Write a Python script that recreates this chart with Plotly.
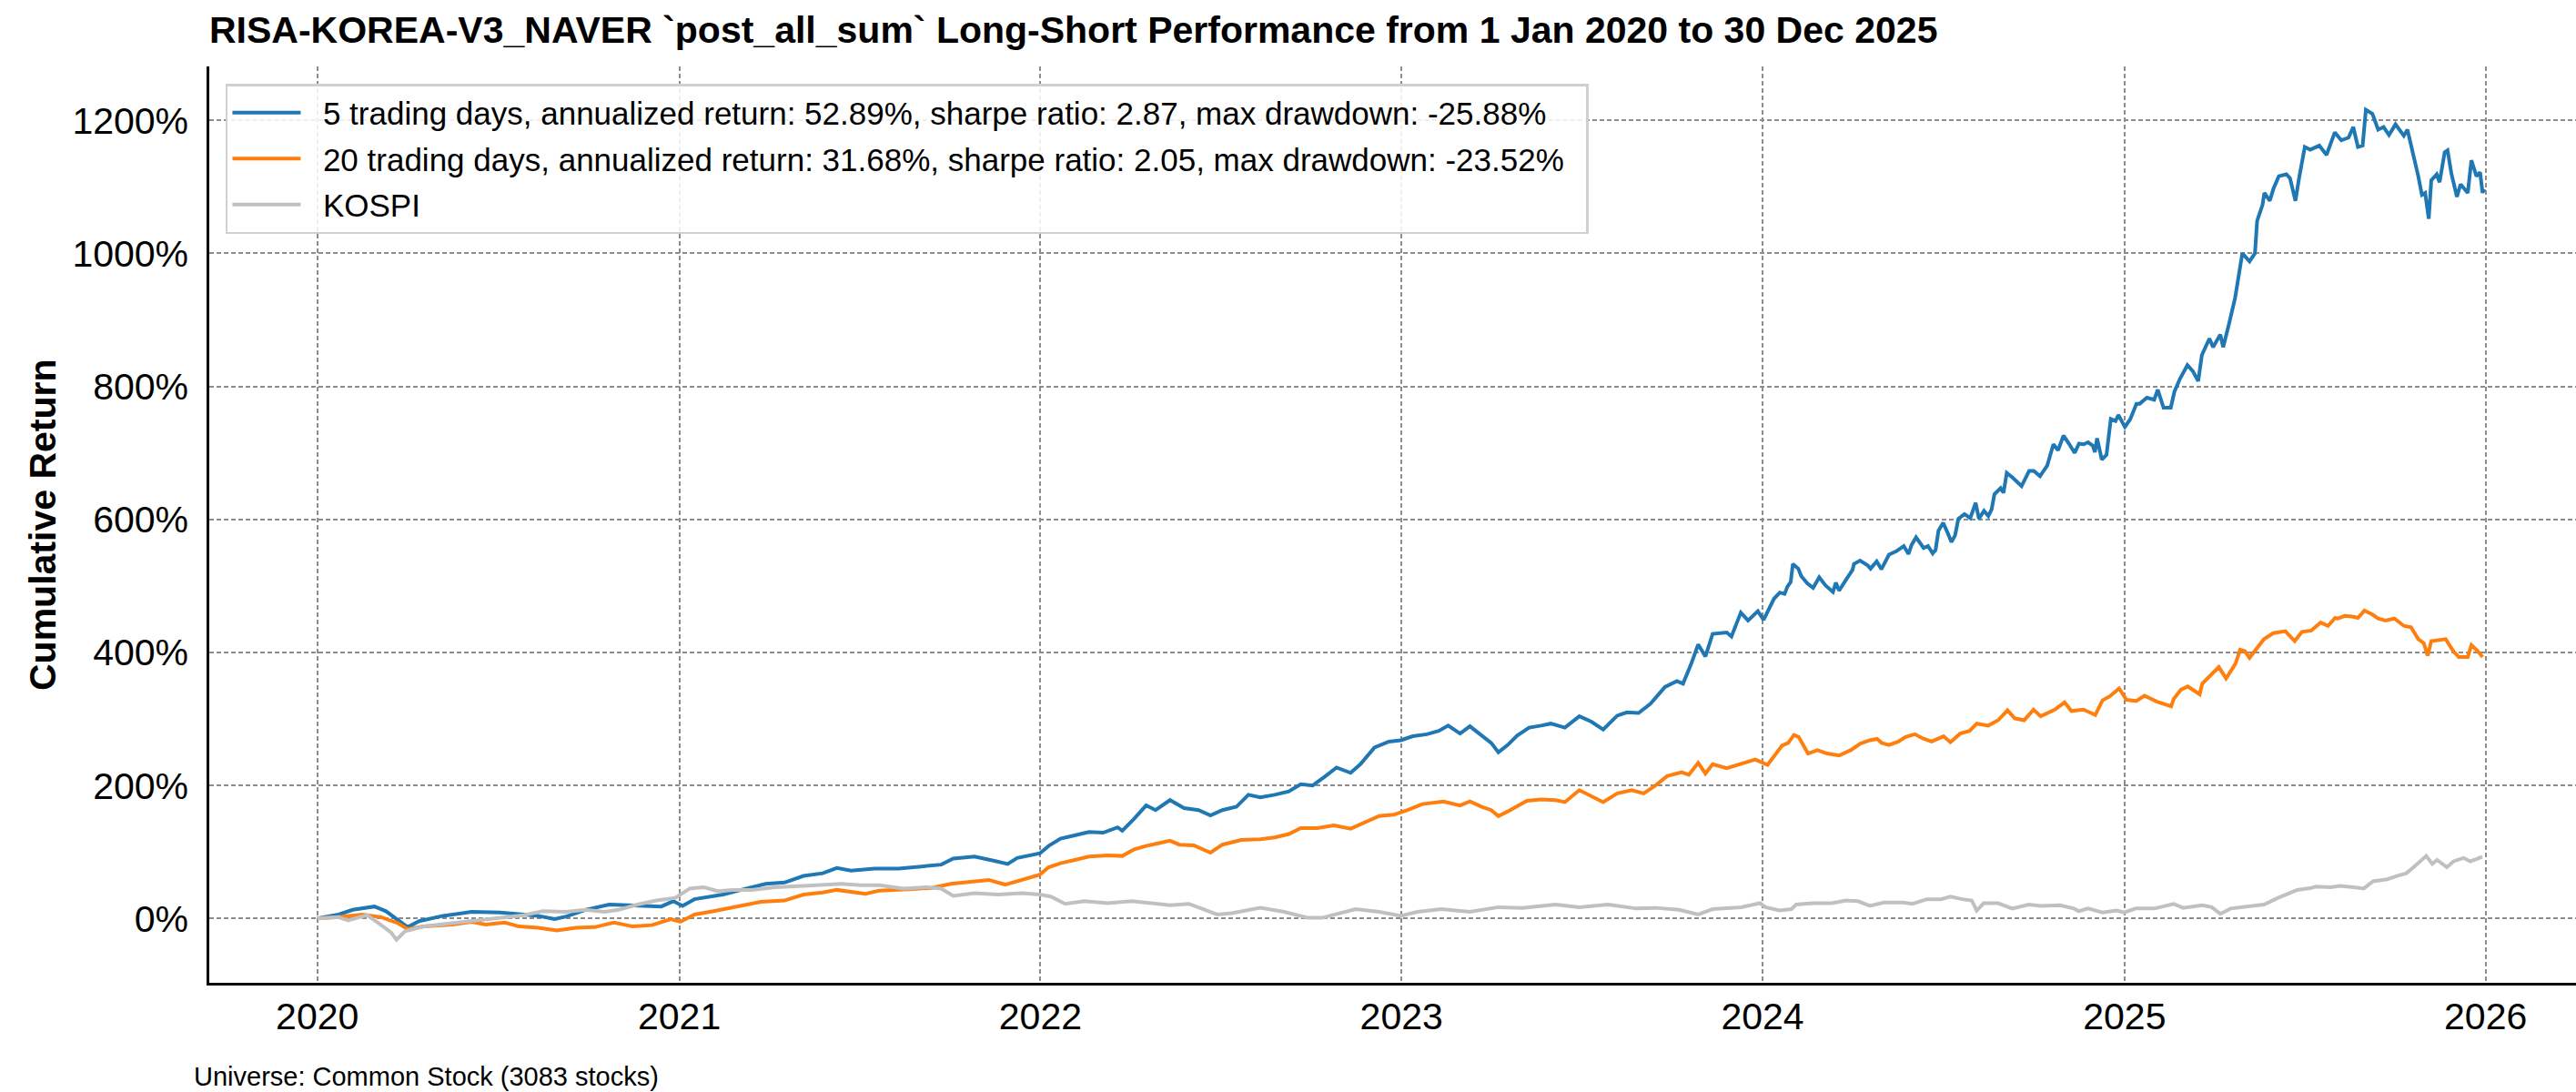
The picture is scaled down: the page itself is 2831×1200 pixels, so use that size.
import pandas as pd
import plotly.graph_objects as go

# ---- data (decimal year, cumulative return in %) ----
t5 = [2020.000, 2020.059, 2020.098, 2020.158, 2020.190, 2020.223, 2020.250, 2020.282, 2020.348, 2020.427,
      2020.506, 2020.571, 2020.611, 2020.657, 2020.689, 2020.742, 2020.808, 2020.860, 2020.913, 2020.952,
      2020.985, 2021.011, 2021.044, 2021.123, 2021.188, 2021.241, 2021.293, 2021.346, 2021.399, 2021.438,
      2021.477, 2021.543, 2021.609, 2021.674, 2021.727, 2021.760, 2021.819, 2021.871, 2021.911, 2021.937,
      2021.976, 2022.000, 2022.024, 2022.057, 2022.096, 2022.136, 2022.175, 2022.215, 2022.228, 2022.261,
      2022.294, 2022.320, 2022.360, 2022.399, 2022.439, 2022.472, 2022.505, 2022.544, 2022.577, 2022.610,
      2022.650, 2022.689, 2022.722, 2022.755, 2022.788, 2022.821, 2022.860, 2022.887, 2022.926, 2022.966,
      2022.999, 2023.032, 2023.071, 2023.104, 2023.130, 2023.163, 2023.190, 2023.223, 2023.249, 2023.269,
      2023.295, 2023.321, 2023.354, 2023.387, 2023.414, 2023.453, 2023.493, 2023.526, 2023.559, 2023.598,
      2023.625, 2023.657, 2023.690, 2023.730, 2023.763, 2023.780, 2023.802, 2023.822, 2023.842, 2023.862,
      2023.901, 2023.914, 2023.940, 2023.960, 2023.987, 2024.003, 2024.019, 2024.032, 2024.048, 2024.061,
      2024.069, 2024.078, 2024.084, 2024.099, 2024.107, 2024.124, 2024.140, 2024.157, 2024.174, 2024.195,
      2024.203, 2024.212, 2024.232, 2024.249, 2024.253, 2024.270, 2024.291, 2024.299, 2024.316, 2024.329,
      2024.350, 2024.370, 2024.391, 2024.404, 2024.412, 2024.425, 2024.446, 2024.458, 2024.471, 2024.479,
      2024.487, 2024.500, 2024.513, 2024.523, 2024.533, 2024.542, 2024.559, 2024.575, 2024.590, 2024.599,
      2024.613, 2024.625, 2024.634, 2024.642, 2024.659, 2024.667, 2024.676, 2024.692, 2024.717, 2024.738,
      2024.751, 2024.768, 2024.788, 2024.797, 2024.805, 2024.818, 2024.833, 2024.847, 2024.864, 2024.876,
      2024.889, 2024.901, 2024.914, 2024.920, 2024.926, 2024.939, 2024.952, 2024.964, 2024.977, 2024.985,
      2025.003, 2025.018, 2025.035, 2025.044, 2025.064, 2025.084, 2025.094, 2025.110, 2025.130, 2025.140,
      2025.155, 2025.176, 2025.191, 2025.206, 2025.216, 2025.237, 2025.247, 2025.267, 2025.275, 2025.292,
      2025.308, 2025.328, 2025.348, 2025.363, 2025.369, 2025.384, 2025.389, 2025.404, 2025.414, 2025.429,
      2025.450, 2025.460, 2025.475, 2025.485, 2025.501, 2025.516, 2025.541, 2025.561, 2025.584, 2025.602,
      2025.622, 2025.635, 2025.648, 2025.661, 2025.670, 2025.688, 2025.704, 2025.719, 2025.734, 2025.752,
      2025.775, 2025.785, 2025.800, 2025.815, 2025.825, 2025.834, 2025.844, 2025.851, 2025.866, 2025.874,
      2025.888, 2025.896, 2025.907, 2025.922, 2025.932, 2025.952, 2025.962, 2025.976, 2025.986, 2025.993,
      2025.997]
v5 = [0, 6, 13, 18, 11, -3, -13, -4, 4, 10,
      9, 6, 4, -1, 3, 13, 21, 20, 19, 18,
      26, 19, 29, 36, 45, 52, 54, 64, 68, 76,
      72, 75, 75, 79, 81, 90, 93, 87, 82, 91,
      96, 98, 109, 120, 125, 130, 129, 137, 132, 150,
      170, 163, 178, 166, 163, 155, 163, 168, 186, 182,
      186, 191, 202, 200, 213, 227, 219, 232, 257, 266,
      268, 274, 277, 282, 290, 278, 289, 275, 264, 250,
      261, 275, 287, 290, 293, 287, 304, 296, 284, 305,
      310, 309, 323, 348, 357, 353, 382, 412, 394, 428,
      430, 424, 460, 448, 462, 449, 467, 481, 490, 488,
      499, 506, 533, 526, 515, 504, 497, 513, 501, 491,
      505, 493, 510, 524, 533, 538, 531, 526, 537, 525,
      547, 552, 560, 548, 561, 573, 557, 560, 549, 554,
      583, 595, 579, 566, 576, 601, 608, 602, 625, 601,
      613, 605, 615, 638, 647, 640, 670, 663, 650, 673,
      673, 665, 681, 699, 713, 704, 726, 715, 700, 714,
      713, 716, 711, 701, 722, 690, 697, 751, 748, 757,
      739, 751, 774, 774, 783, 780, 795, 768, 768, 792,
      811, 832, 823, 808, 847, 872, 859, 878, 859, 896,
      933, 1000, 988, 1000, 1049, 1073, 1091, 1079, 1097, 1116,
      1119, 1113, 1079, 1113, 1160, 1156, 1162, 1148, 1182, 1170,
      1174, 1190, 1160, 1162, 1216, 1210, 1186, 1190, 1178, 1194,
      1177, 1186, 1152, 1116, 1088, 1091, 1052, 1110, 1119, 1107,
      1152, 1155, 1119, 1085, 1104, 1091, 1140, 1116, 1122, 1091,
      1097]

t20 = [2020.000, 2020.059, 2020.125, 2020.177, 2020.223, 2020.250, 2020.295, 2020.374, 2020.427, 2020.466,
       2020.519, 2020.558, 2020.611, 2020.663, 2020.716, 2020.768, 2020.821, 2020.873, 2020.926, 2020.978,
       2021.005, 2021.044, 2021.097, 2021.162, 2021.228, 2021.293, 2021.346, 2021.399, 2021.438, 2021.517,
       2021.556, 2021.635, 2021.701, 2021.753, 2021.819, 2021.858, 2021.904, 2021.937, 2021.976, 2022.000,
       2022.024, 2022.057, 2022.096, 2022.136, 2022.188, 2022.228, 2022.261, 2022.294, 2022.360, 2022.386,
       2022.426, 2022.472, 2022.505, 2022.557, 2022.610, 2022.650, 2022.689, 2022.722, 2022.768, 2022.814,
       2022.860, 2022.900, 2022.939, 2022.979, 2023.018, 2023.058, 2023.117, 2023.163, 2023.190, 2023.223,
       2023.249, 2023.269, 2023.295, 2023.348, 2023.387, 2023.427, 2023.453, 2023.493, 2023.526, 2023.559,
       2023.598, 2023.638, 2023.671, 2023.704, 2023.736, 2023.776, 2023.796, 2023.822, 2023.842, 2023.862,
       2023.901, 2023.941, 2023.980, 2024.014, 2024.034, 2024.054, 2024.071, 2024.087, 2024.100, 2024.113,
       2024.126, 2024.152, 2024.179, 2024.212, 2024.244, 2024.271, 2024.297, 2024.317, 2024.330, 2024.350,
       2024.376, 2024.396, 2024.422, 2024.442, 2024.468, 2024.501, 2024.520, 2024.547, 2024.573, 2024.593,
       2024.625, 2024.652, 2024.678, 2024.698, 2024.724, 2024.750, 2024.770, 2024.809, 2024.836, 2024.855,
       2024.888, 2024.901, 2024.921, 2024.941, 2024.961, 2024.987, 2025.007, 2025.034, 2025.057, 2025.092,
       2025.131, 2025.138, 2025.158, 2025.177, 2025.197, 2025.210, 2025.217, 2025.243, 2025.263, 2025.283,
       2025.296, 2025.309, 2025.322, 2025.335, 2025.348, 2025.368, 2025.388, 2025.414, 2025.447, 2025.473,
       2025.493, 2025.519, 2025.545, 2025.565, 2025.585, 2025.592, 2025.612, 2025.632, 2025.648, 2025.666,
       2025.688, 2025.704, 2025.724, 2025.749, 2025.775, 2025.795, 2025.815, 2025.830, 2025.841, 2025.851,
       2025.871, 2025.891, 2025.912, 2025.927, 2025.952, 2025.962, 2025.978, 2025.993]
v20 = [0, 2, 6, 2, -7, -16, -12, -9, -5, -9,
       -6, -12, -14, -18, -14, -13, -6, -12, -10, -1,
       -5, 6, 11, 18, 25, 27, 36, 39, 43, 37,
       42, 44, 46, 52, 56, 58, 51, 56, 63, 66,
       77, 83, 88, 93, 95, 94, 104, 109, 117, 111,
       110, 99, 111, 118, 119, 122, 127, 136, 136, 140,
       135, 145, 154, 156, 163, 172, 176, 170, 176, 168,
       163, 154, 161, 177, 179, 178, 175, 193, 184, 175,
       188, 193, 188, 200, 214, 220, 216, 234, 218, 232,
       226, 233, 239, 231, 246, 260, 264, 276, 273, 260,
       248, 253, 248, 245, 253, 263, 268, 270, 264, 261,
       266, 273, 277, 271, 266, 274, 265, 278, 282, 293,
       290, 298, 313, 301, 298, 314, 304, 314, 325, 312,
       314, 311, 306, 328, 334, 346, 329, 327, 335, 326,
       319, 330, 344, 349, 342, 337, 353, 367, 378, 361,
       371, 383, 404, 402, 392, 406, 420, 429, 432, 417,
       431, 433, 445, 440, 452, 451, 455, 454, 452, 463,
       457, 451, 448, 451, 440, 438, 420, 414, 395, 417,
       419, 420, 402, 393, 393, 411, 403, 393]

tk = [2020.000, 2020.059, 2020.085, 2020.138, 2020.177, 2020.204, 2020.219, 2020.243, 2020.295, 2020.374,
      2020.440, 2020.506, 2020.571, 2020.624, 2020.689, 2020.742, 2020.794, 2020.834, 2020.886, 2020.939,
      2020.991, 2021.031, 2021.070, 2021.110, 2021.149, 2021.202, 2021.267, 2021.346, 2021.399, 2021.451,
      2021.504, 2021.556, 2021.622, 2021.687, 2021.727, 2021.760, 2021.819, 2021.884, 2021.950, 2022.000,
      2022.030, 2022.070, 2022.123, 2022.188, 2022.254, 2022.307, 2022.360, 2022.412, 2022.452, 2022.491,
      2022.531, 2022.610, 2022.676, 2022.742, 2022.781, 2022.821, 2022.874, 2022.939, 2022.999, 2023.045,
      2023.111, 2023.190, 2023.269, 2023.335, 2023.427, 2023.493, 2023.572, 2023.651, 2023.704, 2023.769,
      2023.822, 2023.862, 2023.941, 2023.993, 2024.008, 2024.047, 2024.080, 2024.093, 2024.139, 2024.192,
      2024.231, 2024.264, 2024.297, 2024.336, 2024.389, 2024.415, 2024.455, 2024.494, 2024.520, 2024.553,
      2024.579, 2024.593, 2024.612, 2024.652, 2024.691, 2024.737, 2024.770, 2024.823, 2024.862, 2024.875,
      2024.901, 2024.941, 2024.980, 2025.001, 2025.033, 2025.085, 2025.138, 2025.164, 2025.217, 2025.243,
      2025.267, 2025.296, 2025.348, 2025.388, 2025.427, 2025.480, 2025.519, 2025.532, 2025.572, 2025.598,
      2025.637, 2025.664, 2025.690, 2025.729, 2025.756, 2025.782, 2025.802, 2025.821, 2025.837, 2025.854,
      2025.867, 2025.894, 2025.913, 2025.940, 2025.959, 2025.979, 2025.992]
vk = [0, 2, -3, 5, -10, -21, -32, -19, -12, -7,
      -3, 0, 5, 11, 10, 13, 10, 13, 21, 27,
      31, 45, 47, 41, 43, 43, 47, 49, 51, 52,
      50, 50, 45, 47, 45, 34, 38, 36, 38, 36,
      33, 22, 26, 23, 26, 23, 20, 22, 14, 6,
      8, 16, 10, 1, 1, 6, 14, 10, 4, 10,
      14, 10, 17, 16, 21, 17, 21, 15, 16, 13,
      6, 14, 17, 23, 17, 12, 14, 21, 23, 23,
      27, 26, 19, 24, 24, 22, 29, 29, 33, 29,
      27, 12, 23, 23, 15, 21, 19, 20, 15, 11,
      15, 9, 12, 9, 15, 15, 22, 16, 20, 17,
      7, 15, 18, 21, 31, 43, 46, 48, 47, 49,
      47, 45, 56, 59, 64, 68, 77, 86, 94, 82,
      88, 77, 86, 91, 86, 90, 93]

names = [
    "5 trading days, annualized return: 52.89%, sharpe ratio: 2.87, max drawdown: -25.88%",
    "20 trading days, annualized return: 31.68%, sharpe ratio: 2.05, max drawdown: -23.52%",
    "KOSPI",
]
colors = ["#1f77b4", "#ff7f0e", "#c0c0c0"]
y_ticks = [0, 200, 400, 600, 800, 1000, 1200]
y_ticklabels = [f"{v}%" for v in y_ticks]
title_text = "RISA-KOREA-V3_NAVER `post_all_sum` Long-Short Performance from 1 Jan 2020 to 30 Dec 2025"
footer_text = "Universe: Common Stock (3083 stocks)"


def to_dates(years):
    base = pd.Timestamp("2020-01-01")
    return [base + pd.to_timedelta((y - 2020.0) * 365.25, unit="D") for y in years]


FONT = "Liberation Sans, Arial, sans-serif"
PAD_L = "\u200b\u00a0\u00a0"          # gap between legend line and label
PAD_R = "\u00a0\u00a0\u200b"          # extra room before legend border

fig = go.Figure()
series = [(t5, v5), (t20, v20), (tk, vk)]
for i, ((tt, vv), nm, col) in enumerate(zip(series, names, colors)):
    fig.add_trace(go.Scatter(
        x=to_dates(tt), y=vv, mode="lines", name=PAD_L + nm + PAD_R,
        line=dict(color=col, width=4),
        legendgroup=f"g{i}",
    ))

fig.update_layout(
    width=2831, height=1200,
    margin=dict(l=230, r=0, t=73, b=120),
    paper_bgcolor="white", plot_bgcolor="white",
    font=dict(family=FONT, color="black"),
    showlegend=True,
    legend=dict(
        x=0.0069, y=0.9811, xanchor="left", yanchor="top",
        bgcolor="rgba(255,255,255,0.85)", bordercolor="#d0d0d0", borderwidth=2.5,
        font=dict(family=FONT, size=35, color="black"),
        itemwidth=75, tracegroupgap=2,
    ),
    title=dict(
        text="<b>" + title_text + "</b>",
        x=0.0, xref="paper", xanchor="left",
        y=1 - 32.5 / 1200, yref="container", yanchor="middle",
        font=dict(family=FONT, size=41, color="black"),
    ),
)

fig.update_xaxes(
    type="date",
    range=["2019-09-13 19:00", "2026-04-02 09:00"],
    tick0="2020-01-01", dtick="M12", tickformat="%Y",
    showgrid=True, gridcolor="#8c8c8c", gridwidth=1.5, griddash="5px,3px",
    showline=True, linecolor="black", linewidth=2.5, mirror=False,
    ticks="", ticklabelstandoff=-1,
    tickfont=dict(family=FONT, size=41, color="black"),
    zeroline=False,
)
fig.update_yaxes(
    range=[-96.7, 1281.1],
    tickmode="array", tickvals=y_ticks, ticktext=y_ticklabels,
    showgrid=True, gridcolor="#8c8c8c", gridwidth=1.5, griddash="5px,3px",
    showline=True, linecolor="black", linewidth=2.5, mirror=False,
    ticks="", ticklabelstandoff=12,
    tickfont=dict(family=FONT, size=41, color="black"),
    zeroline=False,
)

fig.add_annotation(
    text="<b>Cumulative Return</b>", textangle=-90,
    xref="paper", yref="paper", x=(47 - 230) / 2601, y=(1080 - 577) / 1007,
    xanchor="center", yanchor="middle", showarrow=False,
    font=dict(family=FONT, size=41, color="black"),
)
fig.add_annotation(
    text=footer_text,
    xref="paper", yref="paper", x=(211 - 230) / 2601, y=(1080 - 1183) / 1007,
    xanchor="left", yanchor="middle", showarrow=False,
    font=dict(family=FONT, size=29, color="black"),
)

fig.write_html(
    "out.html",
    config={"displayModeBar": False},
    post_script="document.body.style.margin='0px';",
)
